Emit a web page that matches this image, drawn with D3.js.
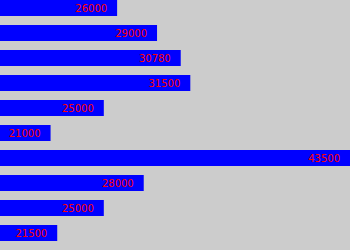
<!DOCTYPE html>
<html>
<head>
<meta charset="utf-8">
<script src="https://cdn.jsdelivr.net/npm/d3@7"></script>
<style>
  html, body { margin: 0; padding: 0; background: #cccccc; }
  svg { display: block; }
</style>
</head>
<body>
<svg id="chart" width="350" height="250"></svg>
<script>
// Salary figures, one bar per row, top to bottom
const rows = ["r1", "r2", "r3", "r4", "r5", "r6", "r7", "r8", "r9", "r10"];
const values = [26000, 29000, 30780, 31500, 25000, 21000, 43500, 28000, 25000, 21500];
const labels = ["26000", "29000", "30780", "31500", "25000", "21000", "43500", "28000", "25000", "21500"];

const width = 350, height = 250;
const svg = d3.select("#chart");

svg.append("rect")
  .attr("width", width).attr("height", height)
  .attr("fill", "#cccccc");

const x = d3.scaleLinear().domain([17200, 43500]).range([0, width]);
const y = d3.scaleBand().domain(rows).range([0, 241]).paddingInner(0.36).paddingOuter(0);

const g = svg.append("g");

g.selectAll("rect.bar")
  .data(values)
  .join("rect")
  .attr("class", "bar")
  .attr("x", 0)
  .attr("y", (d, i) => y(rows[i]))
  .attr("width", d => x(d))
  .attr("height", y.bandwidth())
  .attr("fill", "#0000ff");

g.selectAll("text.val")
  .data(values)
  .join("text")
  .attr("class", "val")
  .attr("x", d => x(d) - 10)
  .attr("y", (d, i) => y(rows[i]) + y.bandwidth() / 2)
  .attr("dy", "0.36em")
  .attr("text-anchor", "end")
  .attr("font-family", "DejaVu Sans, sans-serif")
  .attr("font-size", 10)
  .attr("fill", "#ff0000")
  .text((d, i) => labels[i]);
</script>
</body>
</html>
